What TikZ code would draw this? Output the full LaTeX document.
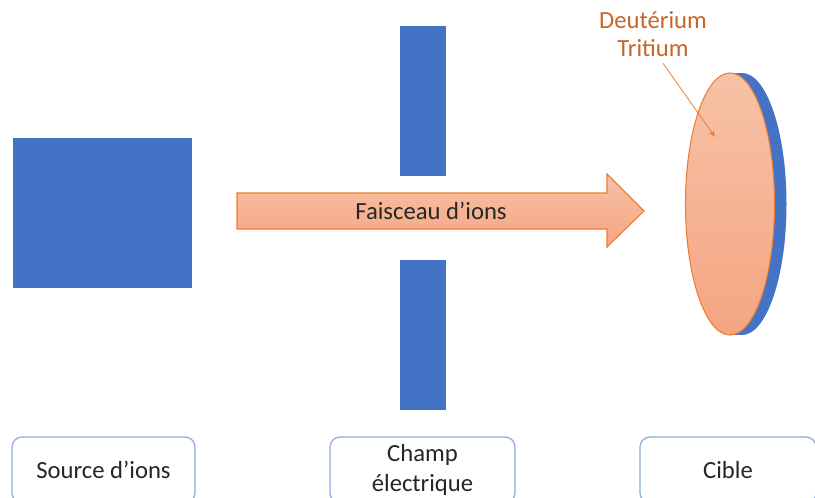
\documentclass[tikz,border=0pt]{standalone}
\usepackage{fontspec}
\setmainfont{Carlito}
\usetikzlibrary{arrows.meta}
\usetikzlibrary{calc,positioning}
\definecolor{plateblue}{HTML}{4472C4}
\definecolor{boxblue}{HTML}{8FAADC}
\definecolor{beamline}{HTML}{ED7D31}
\definecolor{beamtop}{HTML}{F7C2A6}
\definecolor{beambot}{HTML}{F4A582}
\definecolor{labelorange}{HTML}{C8652A}
\definecolor{textgray}{HTML}{262626}
\tikzset{
    plate/.style={fill=plateblue},
    beam/.style={draw=beamline, line width=0.8pt, top color=beamtop, bottom color=beambot},
    caption/.style={draw=boxblue, line width=0.9pt, rounded corners=7.5pt, fill=white,
        minimum height=49.5pt, align=center, text=textgray,
        font=\fontsize{18.5}{22.5}\selectfont},
}
\begin{document}
\begin{tikzpicture}[>=Stealth, x=0.75pt, y=-0.75pt]

    \useasboundingbox (0,0) rectangle (815,497);
    \clip (0,0) rectangle (815,497);

    % source and plates
    \fill[plate] (13,138) rectangle (192,288);
    \fill[plate] (400,26) rectangle (446,176);
    \fill[plate] (400,260) rectangle (446,410);

    % ion beam
    \draw[beam] (237,193) -- (607,193) -- (607,174) -- (644,211) -- (607,247) -- (607,229) -- (237,229) -- cycle;
    \node[text=textgray, font=\fontsize{18.5}{22}\selectfont] (beam) at (431,211) {Faisceau d’ions};

    % target
    \fill[plate] (742,204) ellipse [x radius=44.5, y radius=131];
    \fill[plate] (730,73) rectangle (742,335);
    \draw[beam] (730,204) ellipse [x radius=44.5, y radius=131];

    % D-T label
    \node[text=labelorange, align=center, font=\fontsize{18.5}{21}\selectfont] (dt) at (653,34) {Deutérium\\Tritium};
    \coordinate (dtend) at (715,137);
    \draw[->, beamline, line width=0.6pt, >={Stealth[length=5pt]}] ($(dt.south)+(10,2)$) -- (dtend);

    % captions
    \node[caption, minimum width=137.25pt] (src) at (103.5,470) {Source d’ions};
    \node[caption, minimum width=138.75pt] (champ) at (422.5,470) {Champ\\électrique};
    \node[caption, minimum width=132pt] (cible) at (728,470) {Cible};

\end{tikzpicture}
\end{document}
